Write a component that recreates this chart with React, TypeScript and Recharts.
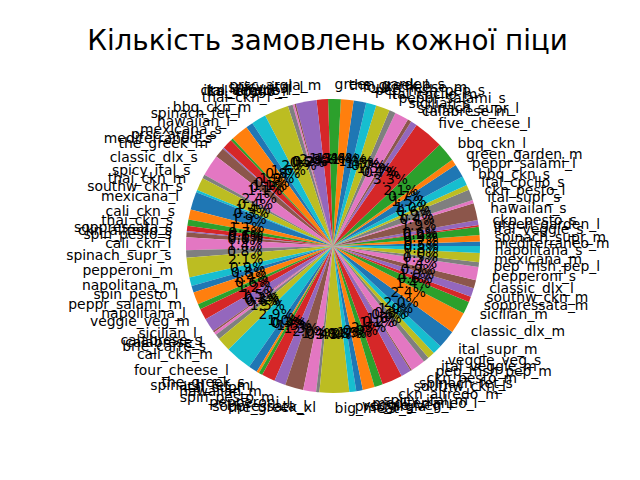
import { PieChart, Pie, Cell } from 'recharts';

// pizza ids in drawing order (counter-clockwise from 3 o'clock)
const pizzaNames = [
  'mediterraneo_m', 'spinach_supr_m', 'ital_veggie_s', 'green_garden_l', 'ckn_pesto_s',
  'hawaiian_s', 'ital_supr_s', 'ckn_pesto_l', 'ital_cpcllo_s', 'bbq_ckn_s',
  'peppr_salami_l', 'green_garden_m', 'bbq_ckn_l', 'five_cheese_l', 'calabrese_m',
  'spinach_supr_l', 'sicilian_s', 'peppr_salami_s', 'ital_cpcllo_m', 'pep_msh_pep_s',
  'four_cheese_m', 'the_greek_l', 'green_garden_s', 'prsc_argla_m', 'spicy_ital_l',
  'ckn_alfredo_l', 'ital_veggie_l', 'ital_cpcllo_l', 'thai_ckn_l', 'bbq_ckn_m',
  'spinach_fet_l', 'hawaiian_l', 'mexicana_s', 'prsc_argla_s', 'mediterraneo_s',
  'the_greek_m', 'classic_dlx_s', 'spicy_ital_s', 'thai_ckn_m', 'southw_ckn_s',
  'mexicana_l', 'cali_ckn_s', 'thai_ckn_s', 'soppressata_s', 'ckn_alfredo_s',
  'spin_pesto_s', 'cali_ckn_l', 'spinach_supr_s', 'pepperoni_m', 'napolitana_m',
  'spin_pesto_l', 'peppr_salami_m', 'napolitana_l', 'veggie_veg_m', 'sicilian_l',
  'calabrese_s', 'calabrese_l', 'brie_carre_s', 'cali_ckn_m', 'four_cheese_l',
  'the_greek_s', 'spinach_fet_m', 'ital_supr_l', 'hawaiian_m', 'spin_pesto_m',
  'pepperoni_l', 'soppressata_l', 'the_greek_xl', 'big_meat_s', 'prsc_argla_l',
  'veggie_veg_l', 'mediterraneo_l', 'spicy_ital_m', 'ckn_alfredo_m', 'southw_ckn_l',
  'spinach_fet_s', 'ckn_pesto_m', 'pep_msh_pep_m', 'ital_veggie_m', 'veggie_veg_s',
  'ital_supr_m', 'classic_dlx_m', 'sicilian_m', 'soppressata_m', 'southw_ckn_m',
  'classic_dlx_l', 'pepperoni_s', 'pep_msh_pep_l', 'mexicana_m', 'napolitana_s',
];

// number of orders per pizza
const orderCounts = [
  243, 338, 432, 95, 270,
  905, 176, 567, 284, 486,
  716, 324, 1026, 1600, 338,
  203, 743, 338, 743, 540,
  675, 675, 675, 608, 1107,
  81, 95, 257, 1296, 783,
  378, 932, 135, 540, 68,
  540, 1148, 203, 675, 135,
  945, 540, 338, 270, 68,
  270, 675, 405, 1040, 459,
  365, 662, 284, 594, 743,
  81, 162, 270, 743, 1418,
  473, 135, 203, 716, 608,
  972, 689, 176, 1580, 365,
  351, 635, 446, 1094, 540,
  81, 770, 311, 378, 500,
  972, 1148, 662, 284, 473,
  446, 702, 257, 486, 365,
];

const palette = [
  '#1f77b4', '#ff7f0e', '#2ca02c', '#d62728', '#9467bd',
  '#8c564b', '#e377c2', '#7f7f7f', '#bcbd22', '#17becf',
];

const data = pizzaNames.map((name, i) => ({ name, value: orderCounts[i] }));

const RAD = Math.PI / 180;
const FONT = '"DejaVu Sans", sans-serif';

function renderLabel(props: any) {
  const { cx, cy, midAngle, outerRadius, percent, name } = props;
  const c = Math.cos(-midAngle * RAD);
  const s = Math.sin(-midAngle * RAD);
  const lx = cx + outerRadius * 1.1 * c;
  const ly = cy + outerRadius * 1.1 * s;
  const px = cx + outerRadius * 0.6 * c;
  const py = cy + outerRadius * 0.6 * s;
  return (
    <g>
      <text
        x={lx} y={ly}
        textAnchor={c > 0 ? 'start' : 'end'}
        dominantBaseline="central"
        fontFamily={FONT} fontSize={13.9} fill="#000"
      >
        {name}
      </text>
      <text
        x={px} y={py}
        textAnchor="middle"
        dominantBaseline="central"
        fontFamily={FONT} fontSize={13.9} fill="#000"
      >
        {(percent * 100).toFixed(1)}%
      </text>
    </g>
  );
}

export default function App() {
  return (
    <div style={{ position: 'fixed', left: 0, top: 0, width: 640, height: 480, background: '#fff' }}>
      <PieChart width={640} height={480}>
        <Pie
          data={data}
          dataKey="value"
          nameKey="name"
          cx={328}
          cy={241}
          outerRadius={147}
          innerRadius={0}
          startAngle={0}
          endAngle={360}
          stroke="none"
          labelLine={false}
          label={renderLabel}
          isAnimationActive={false}
        >
          {data.map((entry, i) => (
            <Cell key={`cell-${i}`} fill={palette[i % palette.length]} />
          ))}
        </Pie>
      </PieChart>
      <svg width={640} height={480} style={{ position: 'absolute', left: 0, top: 0, pointerEvents: 'none' }}>
        <text x={327.5} y={50} textAnchor="middle" fontFamily={FONT} fontSize={27.8} fill="#000">
          Кількість замовлень кожної піци
        </text>
      </svg>
    </div>
  );
}
